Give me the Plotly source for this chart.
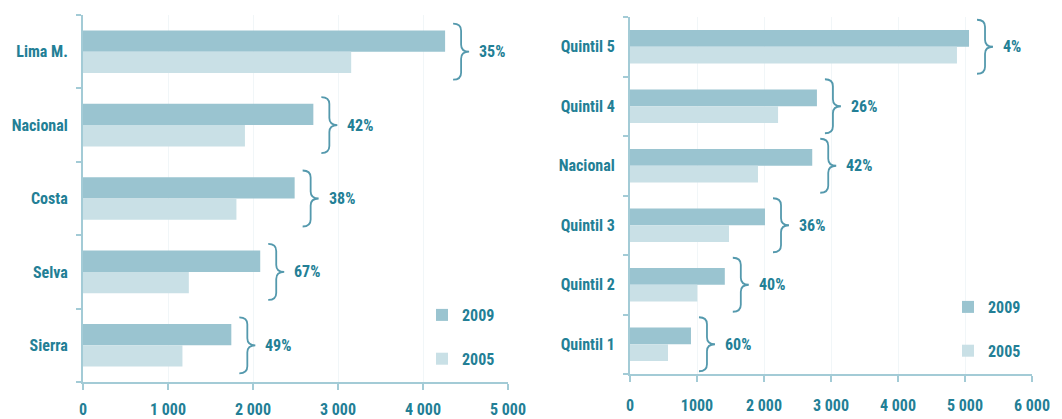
import plotly.graph_objects as go

# ---------------- data ----------------
left_categories = ["Lima M.", "Nacional", "Costa", "Selva", "Sierra"]
left_2009 = [4260, 2710, 2490, 2085, 1745]
left_2005 = [3155, 1905, 1805, 1245, 1170]
left_growth = ["35%", "42%", "38%", "67%", "49%"]
left_ticks = [0, 1000, 2000, 3000, 4000, 5000]
left_ticktext = ["0", "1 000", "2 000", "3 000", "4 000", "5 000"]

right_categories = ["Quintil 5", "Quintil 4", "Nacional", "Quintil 3", "Quintil 2", "Quintil 1"]
right_2009 = [5060, 2790, 2720, 2015, 1415, 910]
right_2005 = [4880, 2210, 1910, 1478, 1005, 567]
right_growth = ["4%", "26%", "42%", "36%", "40%", "60%"]
right_ticks = [0, 1000, 2000, 3000, 4000, 5000, 6000]
right_ticktext = ["0", "1000", "2 000", "3 000", "4 000", "5 000", "6 000"]

series_names = ["2009", "2005"]

# ---------------- style ----------------
W, H = 1062, 419
C2009 = "#9ac4d0"
C2005 = "#c9e0e6"
TXT = "#237f96"
AXC = "#a3cbd6"
BRACE = "#5499ad"
FONT = "Liberation Sans Narrow, Roboto Condensed, DejaVu Sans Condensed, Arial Narrow, Roboto, sans-serif"

panels = [
    dict(cats=left_categories, v09=left_2009, v05=left_2005, lab=left_growth,
         ticks=left_ticks, ticktext=left_ticktext, xr=[0, 5000],
         xdom=[83 / W, 508 / W], ydom=[1 - 382 / H, 1 - 15 / H], barw=0.29,
         bh=56, legend="legend", standoff=6),
    dict(cats=right_categories, v09=right_2009, v05=right_2005, lab=right_growth,
         ticks=right_ticks, ticktext=right_ticktext, xr=[0, 6000],
         xdom=[630 / W, 1032 / W], ydom=[1 - 374 / H, 1 - 17 / H], barw=0.28,
         bh=54, legend="legend2", standoff=10),
]

fig = go.Figure()
shapes = []
annotations = []

for i, p in enumerate(panels):
    xa = "x" if i == 0 else "x2"
    ya = "y" if i == 0 else "y2"
    n = len(p["cats"])
    idx = list(range(n))
    fig.add_trace(go.Bar(y=idx, x=p["v09"], orientation="h", name="<b>%s</b>" % series_names[0],
                         marker=dict(color=C2009, line=dict(width=0)),
                         width=p["barw"], offset=-p["barw"],
                         xaxis=xa, yaxis=ya, legend=p["legend"], legendgroup="a%d" % i,
                         hoverinfo="x"))
    fig.add_trace(go.Bar(y=idx, x=p["v05"], orientation="h", name="<b>%s</b>" % series_names[1],
                         marker=dict(color=C2005, line=dict(width=0)),
                         width=p["barw"], offset=0,
                         xaxis=xa, yaxis=ya, legend=p["legend"], legendgroup="b%d" % i,
                         hoverinfo="x"))

    # pixel -> data conversions
    px_w = (p["xdom"][1] - p["xdom"][0]) * W
    px_h = (p["ydom"][1] - p["ydom"][0]) * H
    ux = (p["xr"][1] - p["xr"][0]) / px_w
    uy = n / px_h

    for k in range(n):
        xend = max(p["v09"][k], p["v05"][k])
        x0 = xend + 8 * ux
        s = x0 + 8 * ux
        tip = x0 + 16 * ux
        yc = k
        h2 = p["bh"] / 2 * uy
        r = 7 * uy
        path = (f"M{x0},{yc - h2} Q{s},{yc - h2} {s},{yc - h2 + r} "
                f"L{s},{yc - r} Q{s},{yc} {tip},{yc} Q{s},{yc} {s},{yc + r} "
                f"L{s},{yc + h2 - r} Q{s},{yc + h2} {x0},{yc + h2}")
        shapes.append(dict(type="path", path=path, xref=xa, yref=ya,
                           line=dict(color=BRACE, width=1.8)))
        annotations.append(dict(x=tip + 8 * ux, y=yc, xref=xa, yref=ya,
                                text="<b>%s</b>" % p["lab"][k], showarrow=False,
                                xanchor="left", yanchor="middle",
                                font=dict(family=FONT, size=16, color=TXT)))

    axis_common = dict(showline=True, linecolor=AXC, linewidth=2, zeroline=False,
                       automargin=False)
    fig.update_layout({
        ("xaxis" if i == 0 else "xaxis2"): dict(
            domain=p["xdom"], range=p["xr"], anchor=ya,
            tickvals=p["ticks"], ticktext=["<b>%s</b>" % t for t in p["ticktext"]],
            ticks="outside", ticklen=6, tickcolor=AXC, tickwidth=1.5,
            ticklabelstandoff=p["standoff"],
            showgrid=True, gridcolor="#f1f6f8", gridwidth=1,
            tickfont=dict(family=FONT, size=16, color=TXT), **axis_common),
        ("yaxis" if i == 0 else "yaxis2"): dict(
            domain=p["ydom"], range=[n - 0.5, -0.5], anchor=xa,
            tickvals=idx, ticktext=["<b>%s</b>" % c for c in p["cats"]],
            ticks="", showgrid=False, ticklabelstandoff=10,
            minor=dict(tickvals=[j - 0.5 for j in range(n + 1)], ticks="outside",
                       ticklen=5, tickcolor=AXC, tickwidth=1.5, showgrid=False),
            tickfont=dict(family=FONT, size=16, color=TXT), **axis_common),
    })

legend_common = dict(orientation="v", xanchor="left", yanchor="top",
                     bgcolor="rgba(0,0,0,0)", tracegroupgap=20,
                     font=dict(family=FONT, size=16, color=TXT), itemclick=False)

fig.update_layout(
    width=W, height=H,
    margin=dict(l=0, r=0, t=0, b=0),
    paper_bgcolor="white", plot_bgcolor="white",
    barmode="overlay",
    showlegend=True,
    shapes=shapes,
    annotations=annotations,
    legend=dict(x=422 / W, y=1 - 298 / H, **legend_common),
    legend2=dict(x=948 / W, y=1 - 290 / H, **legend_common),
)

fig.write_html("out.html",
               config={"displayModeBar": False},
               post_script="document.body.style.margin='0';document.body.style.overflow='hidden';")
